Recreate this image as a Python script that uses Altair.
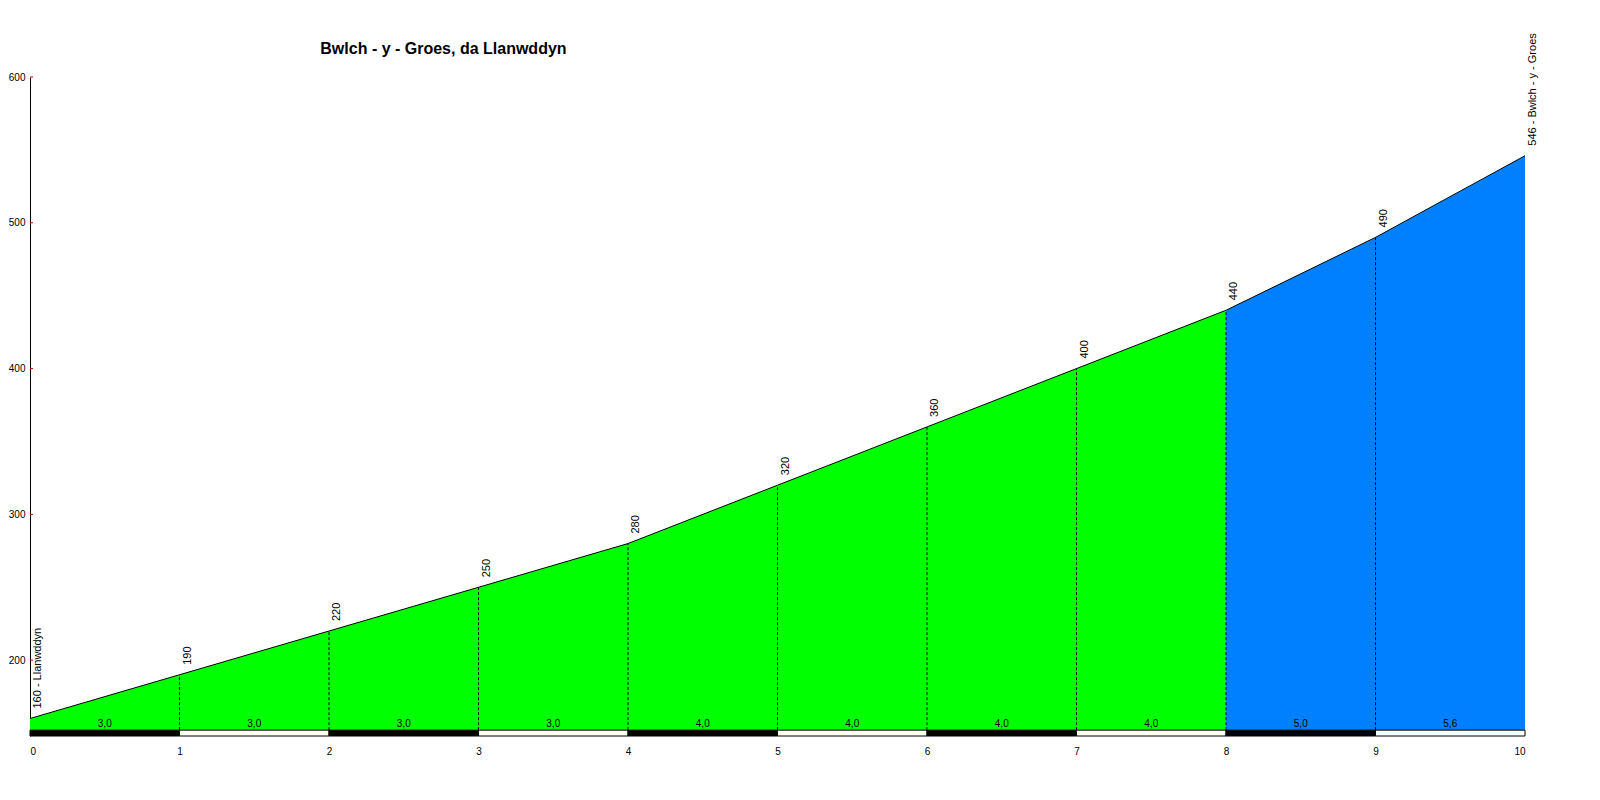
import altair as alt
import pandas as pd

km = [0, 1, 2, 3, 4, 5, 6, 7, 8, 9, 10]
elev = [160, 190, 220, 250, 280, 320, 360, 400, 440, 490, 546]
point_labels = ["160 - Llanwddyn", "190", "220", "250", "280", "320", "360",
                "400", "440", "490", "546 - Bwlch - y - Groes"]
grad_labels = ["3,0", "3,0", "3,0", "3,0", "4,0", "4,0", "4,0", "4,0", "5,0", "5,6"]
y_ticks = [200, 300, 400, 500, 600]
title_text = "Bwlch - y - Groes, da Llanwddyn"

BASE = 152
FLOOR = 148
FONT = "Liberation Sans"

pts = pd.DataFrame({"km": km, "elev": elev, "label": point_labels})
pts["base"] = BASE
green_df = pts[pts.km <= 8]
blue_df = pts[pts.km >= 8]
inner = pts[(pts.km > 0) & (pts.km < 10)]

segs = pd.DataFrame({
    "start": km[:-1],
    "end": km[1:],
    "mid": [k + 0.5 for k in km[:-1]],
    "grad": grad_labels,
    "band": ["black" if i % 2 == 0 else "white" for i in range(len(grad_labels))],
})
segs["base"] = BASE
segs["floor"] = FLOOR
ticks_df = pd.DataFrame({"v": y_ticks})

xs = alt.Scale(domain=[0, 10], nice=False, zero=False)
ys = alt.Scale(domain=[FLOOR, 600], nice=False, zero=False)

X = alt.X("km:Q", scale=xs, axis=alt.Axis(values=km, format="d", domain=False, ticks=False,
                                          labelPadding=10, labelFontSize=10, labelColor="black",
                                          labelFont=FONT, grid=False, title=None))
Y = alt.Y("elev:Q", scale=ys, axis=alt.Axis(values=y_ticks, format="d", domain=True, domainColor="black",
                                            ticks=False, labelPadding=5, labelFontSize=10,
                                            labelColor="black", labelFont=FONT, grid=False, title=None))

green = alt.Chart(green_df).mark_area(color="#00FF00").encode(x=X, y=Y, y2="base:Q")
blue = alt.Chart(blue_df).mark_area(color="#0080FF").encode(x="km:Q", y="elev:Q", y2="base:Q")
line = alt.Chart(pts).mark_line(color="black", strokeWidth=1).encode(x="km:Q", y="elev:Q")
dashes = alt.Chart(inner).mark_rule(color="black", strokeWidth=1, strokeDash=[3, 2]).encode(
    x="km:Q", y="base:Q", y2="elev:Q")
strip = alt.Chart(segs).mark_rect(stroke="black", strokeWidth=1).encode(
    x="start:Q", x2="end:Q", y="floor:Q", y2="base:Q",
    fill=alt.Fill("band:N", scale=None))
grads = alt.Chart(segs).mark_text(font=FONT, fontSize=10, baseline="bottom", dy=-1, color="black").encode(
    x="mid:Q", y="base:Q", text="grad:N")
plabels = alt.Chart(pts).mark_text(font=FONT, fontSize=11, angle=270, align="left", baseline="top",
                                   dx=10, dy=2, color="black").encode(
    x="km:Q", y="elev:Q", text="label:N")
yt = alt.Chart(ticks_df).mark_rule(color="#CC0000", strokeWidth=1).encode(
    y=alt.Y("v:Q", scale=ys), x=alt.value(0), x2=alt.value(3))

chart = alt.layer(green, blue, line, dashes, strip, grads, plabels, yt).properties(
    width=1495, height=659,
    autosize=alt.AutoSizeParams(type="none"),
    padding={"left": 22, "top": 69, "right": 60, "bottom": 40},
    title=alt.TitleParams(title_text, anchor="start", dx=312, dy=46, offset=22, fontSize=16,
                          fontWeight="bold", font=FONT, color="black"),
).configure(background="white", view=alt.ViewConfig(stroke=None))

chart.save("out.html", embed_options={"renderer": "svg", "actions": False})
